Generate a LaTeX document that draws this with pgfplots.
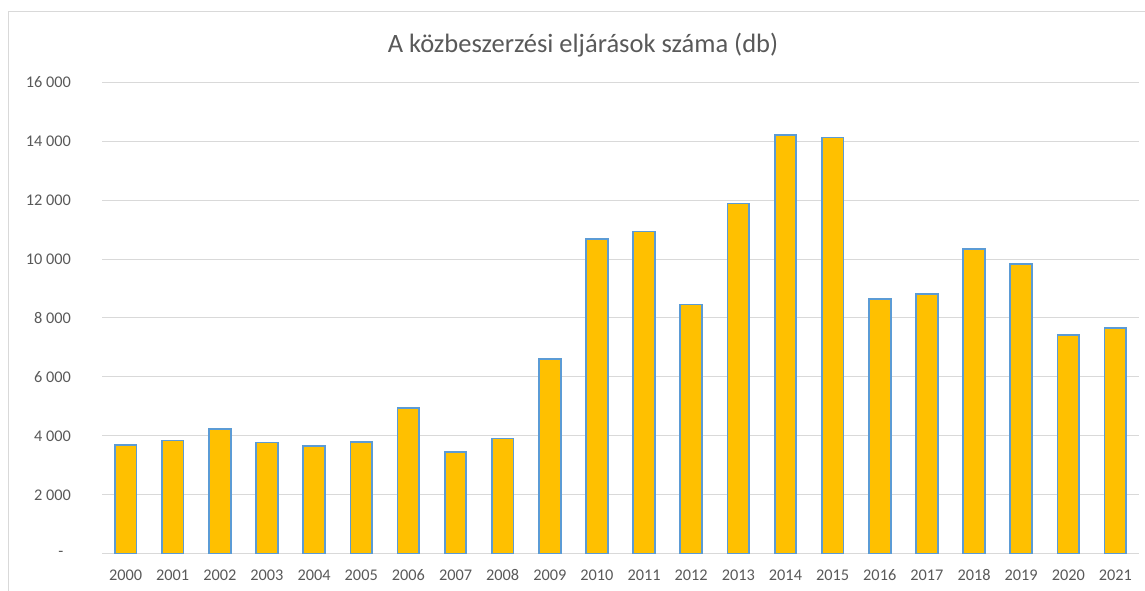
\documentclass[border=0pt]{standalone}
\usepackage{fontspec}
\setmainfont{Carlito}[Numbers=Lining]
\usepackage{pgfplots}
\pgfplotsset{compat=1.18}
\definecolor{bargold}{HTML}{FFC000}
\definecolor{barblue}{HTML}{5B9BD5}
\definecolor{gridgray}{HTML}{D9D9D9}
\definecolor{txtgray}{HTML}{595959}
\begin{document}
\begin{tikzpicture}[x=1pt,y=1pt]
\useasboundingbox (0,0) rectangle (1145,591);
\draw[gridgray, line width=1pt] (8,0) -- (8,579) -- (1145,579);
\begin{axis}[at={(102pt,37.3pt)}, anchor=south west, scale only axis,
  width=1037pt, height=471.4pt,
  xmin=-0.5, xmax=21.5, ymin=0, ymax=16000,
  axis line style={draw=none},
  scaled y ticks=false,
  ymajorgrids, grid style={gridgray, line width=1pt},
  ytick={0,2000,4000,6000,8000,10000,12000,14000,16000},
  yticklabels={-\hspace*{7.5pt}, 2 000, 4 000, 6 000, 8 000, 10 000, 12 000, 14 000, 16 000},
  xtick={0,...,21},
  xticklabels={2000,2001,2002,2003,2004,2005,2006,2007,2008,2009,2010,2011,2012,2013,2014,2015,2016,2017,2018,2019,2020,2021},
  major tick length=0pt,
  tick label style={font=\fontsize{16.3}{19}\selectfont, color=txtgray},
  yticklabel style={anchor=east, inner sep=0pt, xshift=-31pt},
  xticklabel style={anchor=base, inner sep=0pt, yshift=-26.6pt},
  ybar, bar width=21.7pt,
]
\addplot[fill=bargold, draw=barblue, line width=1.8pt] coordinates {
(0,3694) (1,3841) (2,4238) (3,3773) (4,3649) (5,3796) (6,4952) (7,3456)
(8,3909) (9,6611) (10,10686) (11,10935) (12,8456) (13,11886) (14,14204)
(15,14125) (16,8645) (17,8815) (18,10351) (19,9846) (20,7427) (21,7665)
};
\end{axis}
\node[text=txtgray, font=\fontsize{26.5}{30}\selectfont, anchor=base, inner sep=0pt] at (583,538.7) {A közbeszerzési eljárások száma (db)};
\end{tikzpicture}
\end{document}
